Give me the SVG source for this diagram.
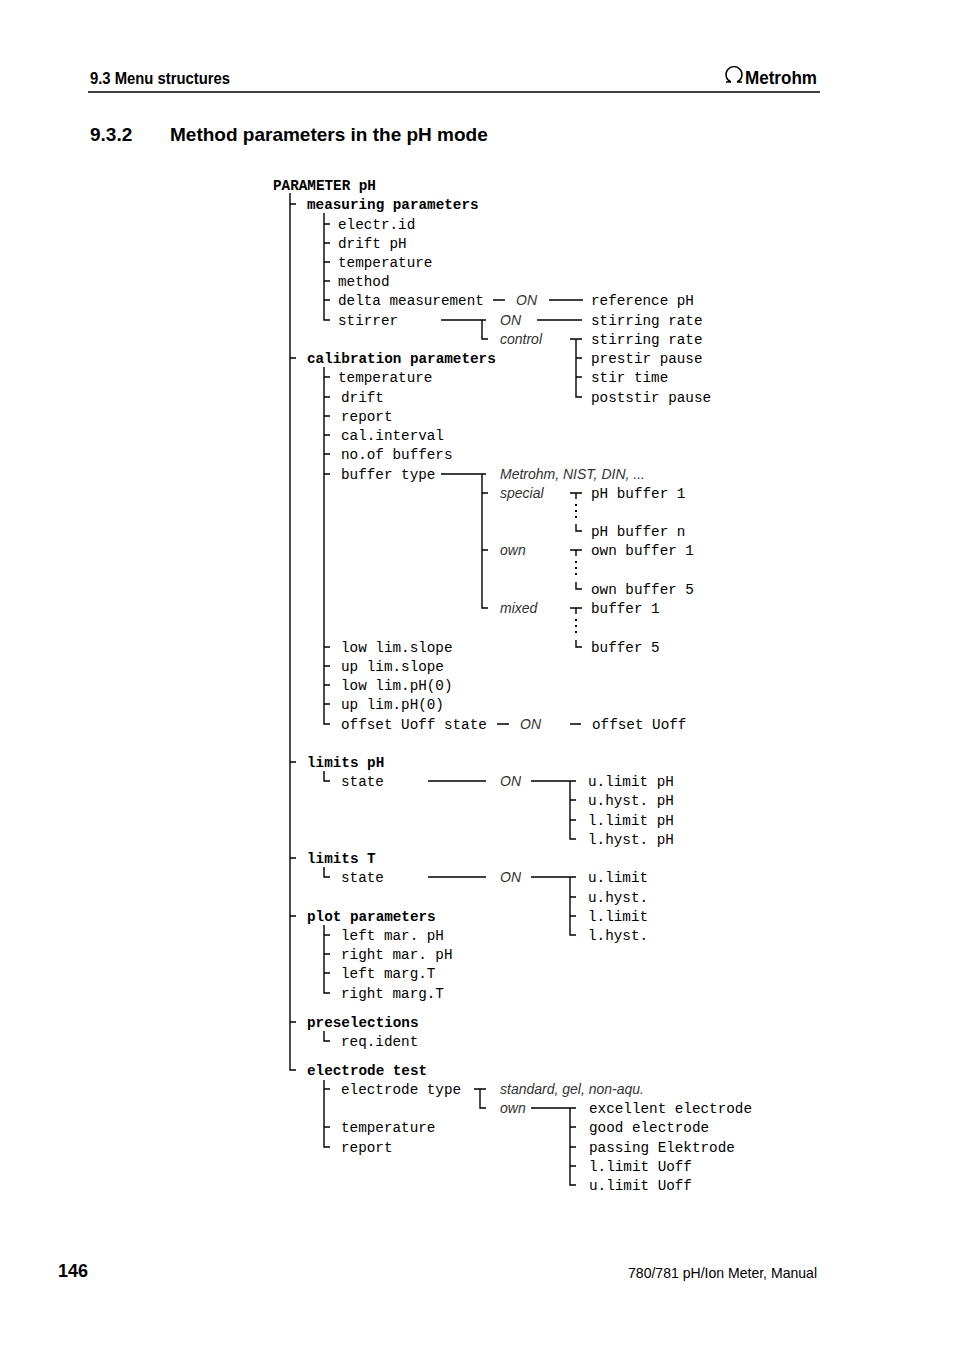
<svg xmlns="http://www.w3.org/2000/svg" width="954" height="1350" viewBox="0 0 954 1350">
<style>
.m{font-family:"Liberation Mono","DejaVu Sans Mono",monospace;font-size:14.3px;fill:#000}
.b{font-weight:bold}
.i{font-family:"Liberation Sans",Arial,sans-serif;font-style:italic;font-size:14px;fill:#333}
.h{font-family:"Liberation Sans",Arial,sans-serif;font-weight:bold;fill:#000}
.l{stroke:#000;stroke-width:1.4;fill:none}
.d{stroke:#000;stroke-width:2;fill:none;stroke-dasharray:2 4}
</style>
<rect width="954" height="1350" fill="#fff"/>
<g id="header">
<text class="h" x="90" y="84" font-size="17" textLength="140" lengthAdjust="spacingAndGlyphs">9.3 Menu structures</text>
<path class="l" d="M726 82 h5 a8 8 0 1 1 6 0 h5" stroke-width="1.6"/>
<text class="h" x="745" y="84" font-size="19" textLength="72" lengthAdjust="spacingAndGlyphs">Metrohm</text>
<line x1="88" y1="92" x2="820" y2="92" stroke="#000" stroke-width="1.5"/>
<text class="h" x="90" y="141" font-size="19">9.3.2</text>
<text class="h" x="170" y="141" font-size="19">Method parameters in the pH mode</text>
</g>
<g id="connectors">
<path class="l" d="M290 193 V1070 H296 M290 204 h6 M290 358 h6 M290 762 h6 M290 858 h6 M290 916 h6 M290 1022 h6"/>
<path class="l" d="M324 213 V320 h6 M324 224 h6 M324 243 h6 M324 262 h6 M324 281 h6 M324 300 h6"/>
<path class="l" d="M493 300 h12 M549 300 h34"/>
<path class="l" d="M441 320 h45 M482 320 V339 h6 M537 320 h45"/>
<path class="l" d="M570 339 h12 M576 339 V397 h6 M576 358 h6 M576 377 h6"/>
<path class="l" d="M324 367 V724 h6 M324 377 h6 M324 397 h6 M324 416 h6 M324 435 h6 M324 454 h6 M324 474 h6 M324 647 h6 M324 666 h6 M324 685 h6 M324 704 h6"/>
<path class="l" d="M441 474 h45 M482 474 V608 h6 M482 493 h6 M482 550 h6"/>
<path class="l" d="M570 493 h12 M576 493 v6 M576 524 v7 h6 M570 550 h12 M576 550 v6 M576 582 v7 h6 M570 608 h12 M576 608 v6 M576 640 v7 h6"/>
<path class="d" d="M576 504 v18 M576 561 v18 M576 619 v18"/>
<path class="l" d="M497 724 h12 M570 724 h11"/>
<path class="l" d="M324 771 V781 h6 M428 781 h58 M531 781 h45 M570 781 V839 h6 M570 800 h6 M570 820 h6"/>
<path class="l" d="M324 867 V877 h6 M428 877 h58 M531 877 h45 M570 877 V935 h6 M570 897 h6 M570 916 h6"/>
<path class="l" d="M324 925 V993 h6 M324 935 h6 M324 954 h6 M324 973 h6"/>
<path class="l" d="M324 1031 V1041 h6"/>
<path class="l" d="M324 1080 V1147 h6 M324 1089 h6 M324 1127 h6"/>
<path class="l" d="M474 1089 h12 M480 1089 V1108 h6 M531 1108 h45 M570 1108 V1185 h6 M570 1127 h6 M570 1147 h6 M570 1166 h6"/>
</g>
<g id="nodes">
<text class="m b" x="273" y="190">PARAMETER pH</text>
<text class="m b" x="307" y="209">measuring parameters</text>
<text class="m" x="338" y="229">electr.id</text>
<text class="m" x="338" y="248">drift pH</text>
<text class="m" x="338" y="267">temperature</text>
<text class="m" x="338" y="286">method</text>
<text class="m" x="338" y="305">delta measurement</text>
<text class="i" x="516" y="305">ON</text>
<text class="m" x="591" y="305">reference pH</text>
<text class="m" x="338" y="325">stirrer</text>
<text class="i" x="500" y="325">ON</text>
<text class="m" x="591" y="325">stirring rate</text>
<text class="i" x="500" y="344">control</text>
<text class="m" x="591" y="344">stirring rate</text>
<text class="m b" x="307" y="363">calibration parameters</text>
<text class="m" x="591" y="363">prestir pause</text>
<text class="m" x="338" y="382">temperature</text>
<text class="m" x="591" y="382">stir time</text>
<text class="m" x="341" y="402">drift</text>
<text class="m" x="591" y="402">poststir pause</text>
<text class="m" x="341" y="421">report</text>
<text class="m" x="341" y="440">cal.interval</text>
<text class="m" x="341" y="459">no.of buffers</text>
<text class="m" x="341" y="479">buffer type</text>
<text class="i" x="500" y="479">Metrohm, NIST, DIN, ...</text>
<text class="i" x="500" y="498">special</text>
<text class="m" x="591" y="498">pH buffer 1</text>
<text class="m" x="591" y="536">pH buffer n</text>
<text class="i" x="500" y="555">own</text>
<text class="m" x="591" y="555">own buffer 1</text>
<text class="m" x="591" y="594">own buffer 5</text>
<text class="i" x="500" y="613">mixed</text>
<text class="m" x="591" y="613">buffer 1</text>
<text class="m" x="591" y="652">buffer 5</text>
<text class="m" x="341" y="652">low lim.slope</text>
<text class="m" x="341" y="671">up lim.slope</text>
<text class="m" x="341" y="690">low lim.pH(0)</text>
<text class="m" x="341" y="709">up lim.pH(0)</text>
<text class="m" x="341" y="729">offset Uoff state</text>
<text class="i" x="520" y="729">ON</text>
<text class="m" x="592" y="729">offset Uoff</text>
<text class="m b" x="307" y="767">limits pH</text>
<text class="m" x="341" y="786">state</text>
<text class="i" x="500" y="786">ON</text>
<text class="m" x="588" y="786">u.limit pH</text>
<text class="m" x="588" y="805">u.hyst. pH</text>
<text class="m" x="588" y="825">l.limit pH</text>
<text class="m" x="588" y="844">l.hyst. pH</text>
<text class="m b" x="307" y="863">limits T</text>
<text class="m" x="341" y="882">state</text>
<text class="i" x="500" y="882">ON</text>
<text class="m" x="588" y="882">u.limit</text>
<text class="m" x="588" y="902">u.hyst.</text>
<text class="m" x="588" y="921">l.limit</text>
<text class="m" x="588" y="940">l.hyst.</text>
<text class="m b" x="307" y="921">plot parameters</text>
<text class="m" x="341" y="940">left mar. pH</text>
<text class="m" x="341" y="959">right mar. pH</text>
<text class="m" x="341" y="978">left marg.T</text>
<text class="m" x="341" y="998">right marg.T</text>
<text class="m b" x="307" y="1027">preselections</text>
<text class="m" x="341" y="1046">req.ident</text>
<text class="m b" x="307" y="1075">electrode test</text>
<text class="m" x="341" y="1094">electrode type</text>
<text class="i" x="500" y="1094">standard, gel, non-aqu.</text>
<text class="i" x="500" y="1113">own</text>
<text class="m" x="589" y="1113">excellent electrode</text>
<text class="m" x="341" y="1132">temperature</text>
<text class="m" x="589" y="1132">good electrode</text>
<text class="m" x="341" y="1152">report</text>
<text class="m" x="589" y="1152">passing Elektrode</text>
<text class="m" x="589" y="1171">l.limit Uoff</text>
<text class="m" x="589" y="1190">u.limit Uoff</text>
</g>
<g id="footer">
<text class="h" x="58" y="1277" font-size="18">146</text>
<text class="h" x="817" y="1278" font-size="15" font-weight="normal" text-anchor="end" style="font-weight:normal" textLength="189" lengthAdjust="spacingAndGlyphs">780/781 pH/Ion Meter, Manual</text>
</g>
</svg>
